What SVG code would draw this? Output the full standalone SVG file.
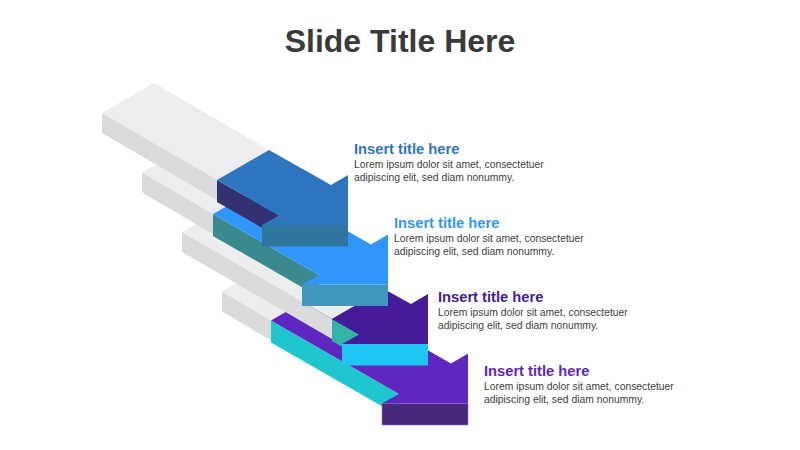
<svg xmlns="http://www.w3.org/2000/svg" width="800" height="450" viewBox="0 0 800 450">
<defs>
<style>
.bt{fill:#ECEDEE}
.bs{fill:#DADBDD}
.title{font-family:"Liberation Sans",Arial,sans-serif;font-weight:bold;font-size:32px;fill:#3A3A3A}
.h{font-family:"Liberation Sans",Arial,sans-serif;font-weight:bold;font-size:14.7px}
.b{font-family:"Liberation Sans",Arial,sans-serif;font-size:10.35px;fill:#404040}
</style>
</defs>
<rect width="800" height="450" fill="#FFFFFF"/>
<text class="title" x="400" y="52" text-anchor="middle">Slide Title Here</text>

<g id="step4" transform="translate(120,178.5)">
<polygon class="bt" points="102,113 154,83 203,112 151,142"/>
<polygon class="bs" points="102,113 151,142 151,162 102,133"/>
<polygon fill="#1EC6CD" points="151,142 279,215.5 279,237.5 151,164"/>
<polygon fill="#5E27BF" points="151,142 203,112 331,185 348,175 348,225 262,225 279,215.5"/>
<rect x="262" y="225" width="86" height="21.5" fill="#46297C" stroke="#8E6BD0" stroke-width="0.6"/>
</g>

<g id="step3" transform="translate(80,119)">
<polygon class="bt" points="102,113 154,83 304,170 252,200"/>
<polygon class="bs" points="102,113 252,200 252,220 102,133"/>
<polygon fill="#35B2A8" points="252,200 279,215.5 279,237.5 252,222"/>
<polygon fill="#441C9A" points="252,200 304,170 331,185 348,175 348,225 262,225 279,215.5"/>
<rect x="262" y="225" width="86" height="21.5" fill="#1FC6F2"/>
</g>

<g id="step2" transform="translate(40,59.5)">
<polygon class="bt" points="102,113 154,83 225,124.5 173,154.5"/>
<polygon class="bs" points="102,113 173,154.5 173,174.5 102,133"/>
<polygon fill="#3A8A8F" points="173,154.5 279,215.5 279,237.5 173,176.5"/>
<polygon fill="#3097FA" points="173,154.5 225,124.5 331,185 348,175 348,225 262,225 279,215.5"/>
<rect x="262" y="225" width="86" height="21.5" fill="#4197BD"/>
</g>

<g id="step1">
<polygon class="bt" points="102,113 154,83 269,150 217,180"/>
<polygon class="bs" points="102,113 217,180 217,200 102,133"/>
<polygon fill="#343173" points="217,180 279,215.5 279,237.5 217,202"/>
<polygon fill="#2E75C0" points="217,180 269,150 331,185 348,175 348,225 262,225 279,215.5"/>
<rect x="262" y="225" width="86" height="21.5" fill="#2F769E"/>
</g>

<g id="text1">
<text class="h" x="354" y="153.5" fill="#2E75C0">Insert title here</text>
<text class="b" x="354" y="168">Lorem ipsum dolor sit amet, consectetuer</text>
<text class="b" x="354" y="180.5">adipiscing elit, sed diam nonummy.</text>
</g>
<g id="text2">
<text class="h" x="394" y="227.5" fill="#3097FA">Insert title here</text>
<text class="b" x="394" y="242">Lorem ipsum dolor sit amet, consectetuer</text>
<text class="b" x="394" y="254.5">adipiscing elit, sed diam nonummy.</text>
</g>
<g id="text3">
<text class="h" x="438" y="301.5" fill="#441C9A">Insert title here</text>
<text class="b" x="438" y="316">Lorem ipsum dolor sit amet, consectetuer</text>
<text class="b" x="438" y="328.5">adipiscing elit, sed diam nonummy.</text>
</g>
<g id="text4">
<text class="h" x="484" y="375.5" fill="#5E27BF">Insert title here</text>
<text class="b" x="484" y="390">Lorem ipsum dolor sit amet, consectetuer</text>
<text class="b" x="484" y="402.5">adipiscing elit, sed diam nonummy.</text>
</g>
</svg>
